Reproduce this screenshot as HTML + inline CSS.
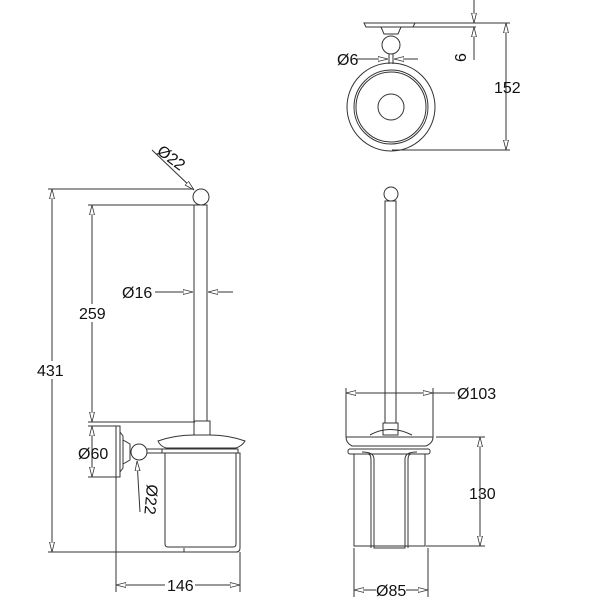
<!DOCTYPE html>
<html><head><meta charset="utf-8"><style>html,body{margin:0;padding:0;background:#fff}svg{display:block}text{font-family:"Liberation Sans",sans-serif;font-size:16px;fill:#111}</style></head><body>
<svg width="600" height="600" viewBox="0 0 600 600" xmlns="http://www.w3.org/2000/svg">
<defs>
<marker id="a" viewBox="0 0 10 6" refX="10" refY="3" markerWidth="10" markerHeight="6" orient="auto-start-reverse" markerUnits="userSpaceOnUse"><path d="M0,0.5 L10,3 L0,5.5 Z" fill="#fff" stroke="#333" stroke-width="0.8"/></marker>
</defs>
<g stroke="#333" stroke-width="1" fill="none">
<!-- LEFT VIEW -->
<line x1="48" y1="189" x2="194" y2="189"/>
<line x1="48" y1="552" x2="238" y2="552"/>
<line x1="52" y1="189" x2="52" y2="552" marker-start="url(#a)" marker-end="url(#a)"/>
<line x1="88" y1="205" x2="194" y2="205"/>
<line x1="88" y1="422" x2="195" y2="422"/>
<line x1="92" y1="205" x2="92" y2="422" marker-start="url(#a)" marker-end="url(#a)"/>
<circle cx="201" cy="197" r="8"/>
<rect x="194" y="205" width="13" height="216"/>
<line x1="152" y1="150" x2="194" y2="190" marker-end="url(#a)"/>
<line x1="155" y1="292" x2="193" y2="292" marker-end="url(#a)"/>
<line x1="233" y1="292" x2="208" y2="292" marker-end="url(#a)"/>
<!-- Ø60 -->
<line x1="88" y1="426" x2="117" y2="426"/>
<line x1="88" y1="477" x2="117" y2="477"/>
<line x1="92" y1="426" x2="92" y2="477" marker-start="url(#a)" marker-end="url(#a)"/>
<rect x="116" y="426" width="4" height="51"/>
<path d="M120,432 L123,436 L123,468 L120,472"/>
<path d="M123,440 L130,444 L130,460 L123,464"/>
<circle cx="139" cy="452" r="8"/>
<line x1="147" y1="449" x2="162" y2="449"/>
<line x1="147" y1="453" x2="162" y2="453"/>
<line x1="140" y1="512" x2="137" y2="461" marker-end="url(#a)"/>
<line x1="116" y1="477" x2="116" y2="592"/>
<line x1="240" y1="552" x2="240" y2="592"/>
<line x1="116" y1="585" x2="165" y2="585" marker-start="url(#a)"/>
<line x1="195" y1="585" x2="240" y2="585" marker-end="url(#a)"/>
<!-- cup left -->
<rect x="194" y="421" width="16" height="14"/>
<path d="M158,441 Q175,435 194,435 L210,435 Q228,435 245,441 Q242,446 236,448 L166,448 Q160,446 158,441 Z"/>
<rect x="162" y="449" width="76" height="4"/>
<path d="M165,453 L165,544 Q165,547 168,547 L233,547 Q236,547 236,544 L236,453"/>
<path d="M236,453 L240,453 L240,548 Q240,552 236,552 L184,552 L184,548"/>
<!-- RIGHT VIEW -->
<circle cx="391" cy="194" r="7"/>
<rect x="385" y="201" width="11" height="222"/>
<line x1="346" y1="388" x2="346" y2="437"/>
<line x1="433" y1="388" x2="433" y2="437"/>
<line x1="346" y1="393" x2="433" y2="393" marker-start="url(#a)" marker-end="url(#a)"/>
<line x1="433" y1="393" x2="455" y2="393"/>
<rect x="383" y="423" width="15" height="12"/>
<path d="M370,435 Q390,424 412,435"/>
<path d="M346,437 L433,437 Q433,443 426,446 L352,446 Q346,443 346,437 Z"/>
<rect x="348" y="449" width="82" height="5" rx="2"/>
<path d="M354,454 L354,546 L425,546 L425,454"/>
<path d="M362,452 Q374,452 374,459 L374,548 L405,548 L405,459 Q405,452 417,452"/>
<path d="M368,454 Q371,454 371,460 L371,548"/>
<path d="M411,454 Q408,454 408,460 L408,548"/>
<line x1="436" y1="437" x2="485" y2="437"/>
<line x1="426" y1="546" x2="485" y2="546"/>
<line x1="480" y1="437" x2="480" y2="546" marker-start="url(#a)" marker-end="url(#a)"/>
<line x1="354" y1="548" x2="354" y2="597"/>
<line x1="428" y1="548" x2="428" y2="597"/>
<line x1="354" y1="590" x2="376" y2="590" marker-start="url(#a)"/>
<line x1="406" y1="590" x2="428" y2="590" marker-end="url(#a)"/>
<!-- TOP VIEW -->
<path d="M364,23 L415,23 L413,27 L366,27 Z"/>
<line x1="415" y1="23" x2="510" y2="23"/>
<line x1="413" y1="27" x2="476" y2="27"/>
<path d="M381,27 L384,34 L398,34 L401,27"/>
<circle cx="391" cy="45" r="9"/>
<line x1="389" y1="54" x2="389" y2="64"/>
<line x1="393" y1="54" x2="393" y2="64"/>
<line x1="357" y1="59" x2="388" y2="59" marker-end="url(#a)"/>
<line x1="418" y1="59" x2="394" y2="59" marker-end="url(#a)"/>
<circle cx="391" cy="107" r="44"/>
<circle cx="391" cy="107" r="37"/>
<circle cx="391" cy="107" r="35"/>
<circle cx="391" cy="107" r="13"/>
<line x1="474" y1="0" x2="474" y2="23" marker-end="url(#a)"/>
<line x1="474" y1="60" x2="474" y2="27" marker-end="url(#a)"/>
<line x1="392" y1="150" x2="510" y2="150"/>
<line x1="506" y1="23" x2="506" y2="150" marker-start="url(#a)" marker-end="url(#a)"/>
</g>
<g>
<rect x="34" y="361" width="36" height="18" fill="#fff"/>
<text x="37" y="376">431</text>
<rect x="76" y="304" width="34" height="18" fill="#fff"/>
<text x="79" y="319">259</text>
<text x="122" y="298">Ø16</text>
<text x="78" y="459">Ø60</text>
<text x="167" y="591">146</text>
<text x="457" y="399">Ø103</text>
<text x="469" y="499">130</text>
<text x="376" y="596">Ø85</text>
<text x="337" y="65">Ø6</text>
<text x="494" y="93">152</text>
<text transform="translate(466,62) rotate(-90)">6</text>
<text transform="translate(156,153) rotate(37)">Ø22</text>
<text transform="translate(147,484) rotate(95)">Ø22</text>
</g>
</svg>
</body></html>
